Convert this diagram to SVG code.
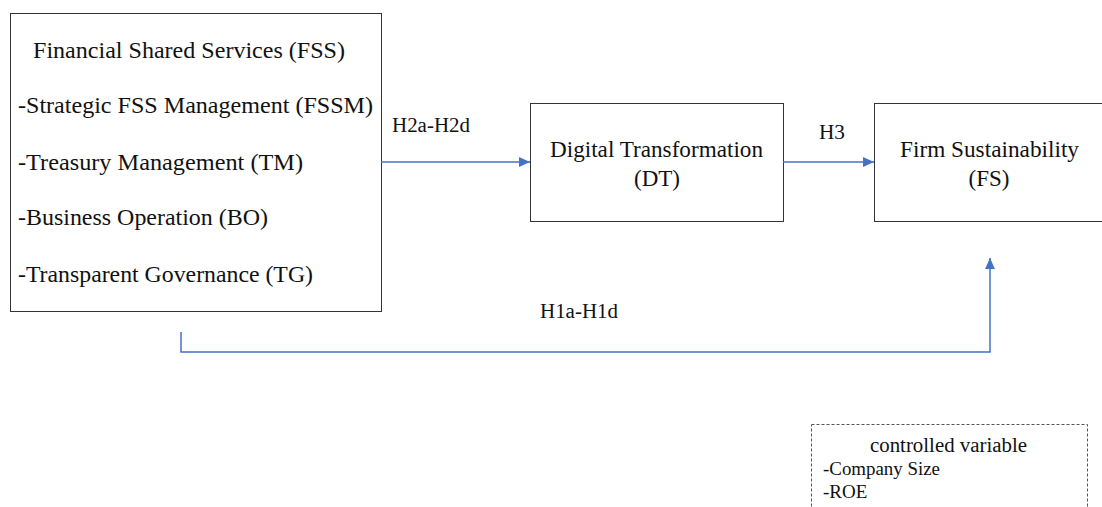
<svg xmlns="http://www.w3.org/2000/svg" width="1102" height="507" viewBox="0 0 1102 507">
<defs>
<style>
.box{fill:#fff;stroke:#333;stroke-width:1}
.t{font-family:"Liberation Serif","Times New Roman",serif;font-size:23px;fill:#111}
.s{font-family:"Liberation Serif","Times New Roman",serif;font-size:19px;fill:#111}
.h{font-family:"Liberation Serif","Times New Roman",serif;font-size:20px;fill:#111}
.c{stroke:#4472C4;stroke-width:1.5;fill:none}
</style>
<marker id="ah" viewBox="0 0 10 10" refX="10" refY="5" markerWidth="11" markerHeight="11" markerUnits="userSpaceOnUse" orient="auto">
<path d="M0,0.5 L10,5 L0,9.5 Z" fill="#4472C4"/>
</marker>
</defs>
<rect width="1102" height="507" fill="#fff"/>
<g id="fss">
<rect class="box" x="10.5" y="13.5" width="371" height="298"/>
<text class="t" x="33" y="58" textLength="312" lengthAdjust="spacingAndGlyphs">Financial Shared Services  (FSS)</text>
<text class="t" x="18" y="113" textLength="355" lengthAdjust="spacingAndGlyphs">-Strategic  FSS Management  (FSSM)</text>
<text class="t" x="18" y="170" textLength="285" lengthAdjust="spacingAndGlyphs">-Treasury Management  (TM)</text>
<text class="t" x="18" y="225" textLength="250" lengthAdjust="spacingAndGlyphs">-Business Operation  (BO)</text>
<text class="t" x="18" y="282" textLength="295" lengthAdjust="spacingAndGlyphs">-Transparent Governance  (TG)</text>
</g>
<g id="dt">
<rect class="box" x="530.5" y="103.5" width="253" height="118"/>
<text class="t" x="550" y="157" textLength="213" lengthAdjust="spacingAndGlyphs">Digital Transformation</text>
<text class="t" x="657" y="186" text-anchor="middle">(DT)</text>
</g>
<g id="fs">
<rect class="box" x="874.5" y="103.5" width="240" height="118"/>
<text class="t" x="900" y="157" textLength="179" lengthAdjust="spacingAndGlyphs">Firm Sustainability</text>
<text class="t" x="989" y="186" text-anchor="middle">(FS)</text>
</g>
<g id="controls">
<rect x="811.5" y="424.5" width="276" height="100" fill="none" stroke="#555" stroke-width="1" stroke-dasharray="3,2"/>
<text class="s" x="870" y="452" textLength="157" lengthAdjust="spacingAndGlyphs" style="font-size:20px">controlled variable</text>
<text class="s" x="823" y="475" textLength="117" lengthAdjust="spacingAndGlyphs">-Company Size</text>
<text class="s" x="823" y="498">-ROE</text>
</g>
<g id="connectors">
<path class="c" d="M381,162 H530" marker-end="url(#ah)"/>
<path class="c" d="M783,162 H874" marker-end="url(#ah)"/>
<path class="c" d="M181,332 V352 H990 V258" marker-end="url(#ah)"/>
<text class="h" x="392" y="132" textLength="78" lengthAdjust="spacingAndGlyphs">H2a-H2d</text>
<text class="h" x="819" y="139" textLength="26" lengthAdjust="spacingAndGlyphs">H3</text>
<text class="h" x="540" y="318" textLength="78" lengthAdjust="spacingAndGlyphs">H1a-H1d</text>
</g>
</svg>
